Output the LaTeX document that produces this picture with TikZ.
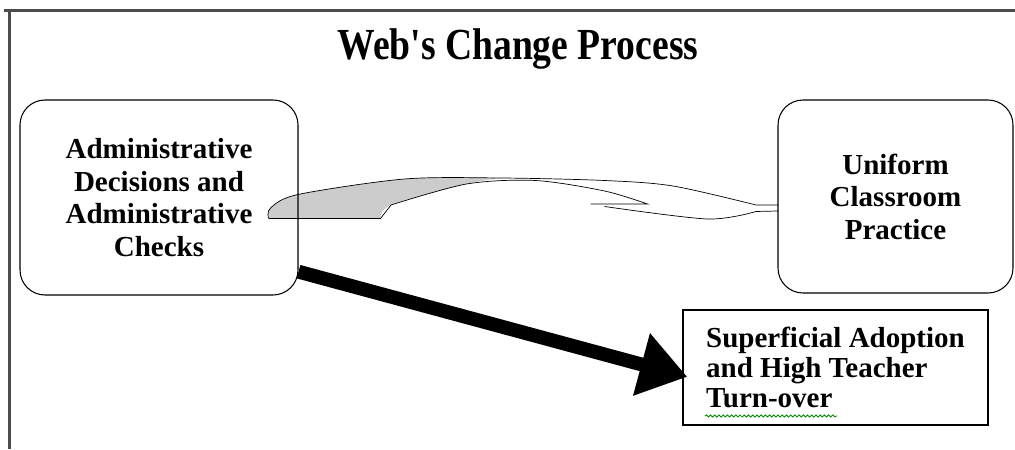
\documentclass[tikz,border=0pt]{standalone}
\usepackage{fontspec}
\setmainfont{Liberation Serif}
\usetikzlibrary{positioning}
\usetikzlibrary{arrows.meta}
\usetikzlibrary{decorations.pathmorphing}
\usetikzlibrary{backgrounds}

\begin{document}
\begin{tikzpicture}[
    line width=0.6pt,
    rbox/.style={draw, rounded corners=0.5cm, align=center, inner sep=0pt,
      font=\bfseries\fontsize{16.5}{18.5}\selectfont},
    plainbox/.style={draw, align=left, inner sep=0pt,
      font=\bfseries\fontsize{16.5}{17}\selectfont},
    frameline/.style={line width=1.6pt, gray!60!black}
  ]
  \useasboundingbox (0,0) rectangle (20.3,8.98);

  % page frame
  \draw[frameline] (0.19,0) -- (0.19,8.77);
  \draw[frameline] (0.08,8.77) -- (20.3,8.77);

  \node[font=\bfseries\fontsize{21.4}{24}\selectfont] (title) at (10.36,8.0)
    {\scalebox{1}[1.18]{Web\textquotesingle s Change Process}};

  \node[rbox, minimum width=5.56cm, minimum height=3.9cm] (adm) at (3.18,5.03)
    {Administrative\\Decisions and\\Administrative\\Checks};
  \node[rbox, minimum width=4.7cm, minimum height=3.86cm] (ucp) at (17.91,5.05)
    {Uniform\\Classroom\\Practice};
  \node[plainbox, minimum width=6.1cm, minimum height=2.3cm] (sup) at (16.71,1.63)
    {Superficial Adoption\\and High Teacher\\Turn-over};

  % spell check mark
  \draw[green!55!black, line width=0.5pt, decorate,
    decoration={snake, amplitude=0.6pt, segment length=2.4pt}] (14.1,0.66) -- (16.74,0.66);

  % curved block arrow
  \begin{scope}[on background layer]
    \fill[gray!40] plot[smooth] coordinates {(5.37,4.61) (5.41,4.82) (5.96,5.09) (8.09,5.40) (9.9,5.42)}
      -- plot[smooth] coordinates {(9.9,5.40) (9.33,5.30) (7.82,4.88) (7.61,4.61)} -- cycle;
    \draw plot[smooth] coordinates {(5.37,4.61) (5.41,4.82) (5.96,5.09) (8.09,5.40) (10.02,5.42)
      (12.09,5.37) (13.46,5.26) (15.12,4.88)} -- (15.56,4.88);
    \draw (5.37,4.61) -- (7.61,4.61);
    \draw (7.61,4.61) -- plot[smooth] coordinates {(7.82,4.88) (9.33,5.30) (10.71,5.37) (12.09,5.16) (12.95,4.90)}
      -- (11.81,4.90);
    \draw plot[smooth] coordinates {(12.09,4.85) (14.15,4.60) (15.12,4.75)} -- (15.56,4.76);
  \end{scope}

  \draw[line width=7.9pt, -{Triangle[length=27pt,width=35pt]}, shorten >=-0.1cm] (adm.-28) -- (sup.183);
\end{tikzpicture}
\end{document}
